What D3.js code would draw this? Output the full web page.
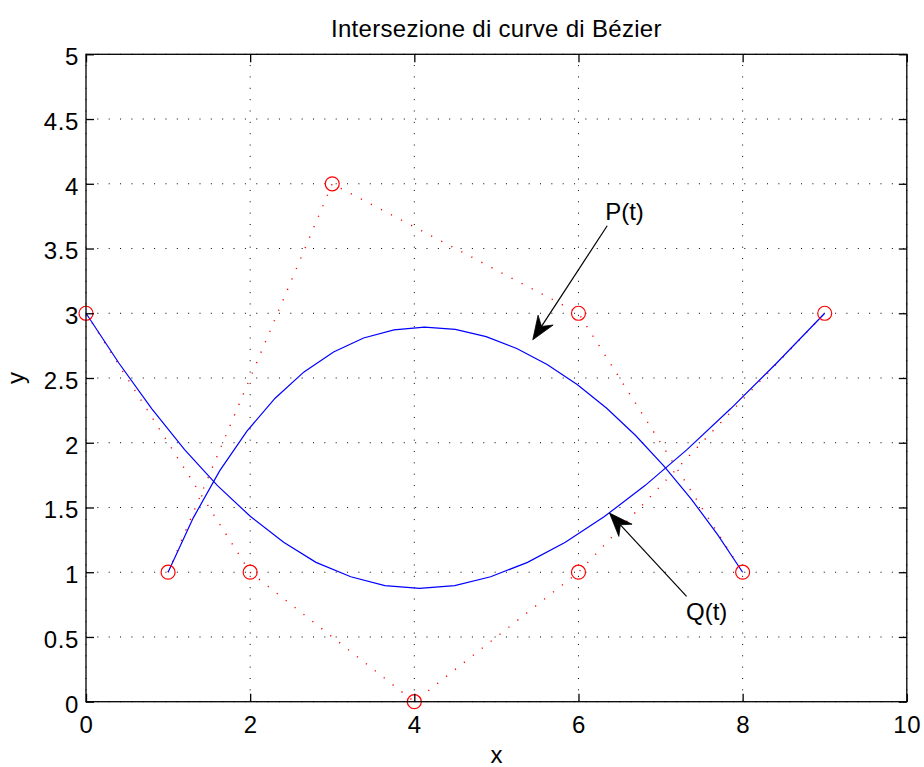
<!DOCTYPE html>
<html>
<head>
<meta charset="utf-8">
<script src="https://cdn.jsdelivr.net/npm/d3@7"></script>
<style>
  html, body { margin: 0; padding: 0; background: #fff; }
  svg { display: block; }
  text { font-family: "Liberation Sans", Arial, Helvetica, sans-serif; fill: #000; }
</style>
</head>
<body>
<svg id="chart" width="924" height="767"></svg>
<script>
// Labels
const titleText = "Intersezione di curve di Bézier";
const xLabel = "x";
const yLabel = "y";

// Axis ticks
const xTicks = [0, 2, 4, 6, 8, 10];
const xTickLabels = ["0", "2", "4", "6", "8", "10"];
const yTicks = [0, 0.5, 1, 1.5, 2, 2.5, 3, 3.5, 4, 4.5, 5];
const yTickLabels = ["0", "0.5", "1", "1.5", "2", "2.5", "3", "3.5", "4", "4.5", "5"];

// Control polygons
const pControlX = [1, 3, 6, 8];
const pControlY = [1, 4, 3, 1];
const qControlX = [0, 2, 4, 6, 9];
const qControlY = [3, 1, 0, 1, 3];

// Sampled curve vertices (21 samples each)
const pCurveX = [1.000, 1.307, 1.628, 1.961, 2.304, 2.656, 3.016, 3.382, 3.752, 4.125, 4.500,
                 4.875, 5.248, 5.618, 5.984, 6.344, 6.696, 7.039, 7.372, 7.693, 8.000];
const pCurveY = [1.000, 1.420, 1.783, 2.090, 2.344, 2.547, 2.701, 2.809, 2.872, 2.893, 2.875,
                 2.819, 2.728, 2.604, 2.449, 2.266, 2.056, 1.822, 1.567, 1.292, 1.000];
const qCurveX = [0.000, 0.400, 0.800, 1.201, 1.602, 2.004, 2.408, 2.802, 3.226, 3.641, 4.063,
                 4.492, 4.930, 5.379, 5.840, 6.316, 6.810, 7.322, 7.856, 8.415, 9.000];
const qCurveY = [3.000, 2.616, 2.264, 1.947, 1.669, 1.430, 1.232, 1.076, 0.965, 0.897, 0.875,
                 0.897, 0.965, 1.076, 1.232, 1.430, 1.669, 1.947, 2.264, 2.616, 3.000];

// Annotations (data coordinates)
const noteLabels = ["P(t)", "Q(t)"];
const noteTextAt = [[6.325, 3.717], [7.31, 0.633]];
const noteTail = [[6.35, 3.676], [7.317, 0.813]];
const noteTip = [[5.443, 2.795], [6.378, 1.457]];

const svg = d3.select("#chart");
svg.append("rect").attr("width", 924).attr("height", 767).attr("fill", "#fff");

const x = d3.scaleLinear().domain([0, 10]).range([86, 906.8]);
const y = d3.scaleLinear().domain([0, 5]).range([701.7, 54.3]);

const FS = 24;
const dotted = "1,10.35";

// Grid
const grid = svg.append("g").attr("stroke", "#000").attr("stroke-width", 1)
  .attr("stroke-dasharray", dotted).attr("fill", "none");
yTicks.forEach(v => {
  grid.append("line")
    .attr("x1", x(0)).attr("x2", x(10))
    .attr("y1", y(v)).attr("y2", y(v));
});
xTicks.forEach(v => {
  grid.append("line")
    .attr("x1", x(v)).attr("x2", x(v))
    .attr("y1", y(0)).attr("y2", y(5));
});

// Control polygons
const zip = (xs, ys) => xs.map((v, i) => [v, ys[i]]);
const line = d3.line().x(d => x(d[0])).y(d => y(d[1]));

[zip(pControlX, pControlY), zip(qControlX, qControlY)].forEach(pts => {
  svg.append("path").attr("d", line(pts))
    .attr("fill", "none").attr("stroke", "#ff0000").attr("stroke-width", 1.4)
    .attr("stroke-dasharray", "1.2,10.15");
});

// Curves
[zip(pCurveX, pCurveY), zip(qCurveX, qCurveY)].forEach(pts => {
  svg.append("path").attr("d", line(pts))
    .attr("fill", "none").attr("stroke", "#0000ff").attr("stroke-width", 1.2)
    .attr("stroke-linejoin", "miter");
});

// Markers
[zip(pControlX, pControlY), zip(qControlX, qControlY)].forEach(pts => {
  svg.append("g").selectAll("circle").data(pts).join("circle")
    .attr("cx", d => x(d[0])).attr("cy", d => y(d[1])).attr("r", 7)
    .attr("fill", "none").attr("stroke", "#ff0000").attr("stroke-width", 1.2);
});

// Axes (ticks pointing inward)
function styleAxis(g) {
  g.attr("font-size", null).attr("font-family", null);
  g.select(".domain").remove();
  g.selectAll(".tick line").attr("stroke", "#000").attr("stroke-width", 1.3);
  g.selectAll("text").attr("font-size", FS).attr("fill", "#000").attr("letter-spacing", 0.6);
}

svg.append("g").attr("transform", `translate(0,${y(0)})`)
  .call(d3.axisBottom(x).tickValues(xTicks).tickFormat((d, i) => xTickLabels[i])
    .tickSizeInner(-8).tickSizeOuter(0).tickPadding(14.5))
  .call(styleAxis);

svg.append("g").attr("transform", `translate(0,${y(5)})`)
  .call(d3.axisTop(x).tickValues(xTicks).tickFormat(() => "")
    .tickSizeInner(-8).tickSizeOuter(0))
  .call(styleAxis);

svg.append("g").attr("transform", `translate(${x(0)},0)`)
  .call(d3.axisLeft(y).tickValues(yTicks).tickFormat((d, i) => yTickLabels[i])
    .tickSizeInner(-8).tickSizeOuter(0).tickPadding(7))
  .call(styleAxis)
  .call(g => g.selectAll("text").attr("dy", "0.43em"));

svg.append("g").attr("transform", `translate(${x(10)},0)`)
  .call(d3.axisRight(y).tickValues(yTicks).tickFormat(() => "")
    .tickSizeInner(-8).tickSizeOuter(0))
  .call(styleAxis);

// Box
svg.append("rect")
  .attr("x", x(0)).attr("y", y(5))
  .attr("width", x(10) - x(0)).attr("height", y(0) - y(5))
  .attr("fill", "none").attr("stroke", "#000").attr("stroke-width", 1.3);

// Title and axis labels
svg.append("text").attr("x", (x(0) + x(10)) / 2).attr("y", 36.7)
  .attr("text-anchor", "middle").attr("font-size", FS).attr("letter-spacing", 0.3)
  .text(titleText);
svg.append("text").attr("x", (x(0) + x(10)) / 2).attr("y", 763)
  .attr("text-anchor", "middle").attr("font-size", FS).text(xLabel);
svg.append("text").attr("transform", `translate(24,${(y(0) + y(5)) / 2}) rotate(-90)`)
  .attr("text-anchor", "middle").attr("font-size", FS).text(yLabel);

// Arrows with labels
noteLabels.forEach((lab, i) => {
  const [tx, ty] = [x(noteTip[i][0]), y(noteTip[i][1])];
  const [sx, sy] = [x(noteTail[i][0]), y(noteTail[i][1])];
  const len = Math.hypot(sx - tx, sy - ty);
  const ux = (sx - tx) / len, uy = (sy - ty) / len;   // tip -> tail
  const px = -uy, py = ux;                            // perpendicular
  const headLen = 23.5, halfW = 9, notch = 16;
  const b1 = [tx + ux * headLen + px * halfW, ty + uy * headLen + py * halfW];
  const b2 = [tx + ux * headLen - px * halfW, ty + uy * headLen - py * halfW];
  const nb = [tx + ux * notch, ty + uy * notch];
  svg.append("line")
    .attr("x1", sx).attr("y1", sy).attr("x2", nb[0]).attr("y2", nb[1])
    .attr("stroke", "#000").attr("stroke-width", 1.2);
  svg.append("path")
    .attr("d", `M${tx},${ty}L${b1[0]},${b1[1]}L${nb[0]},${nb[1]}L${b2[0]},${b2[1]}Z`)
    .attr("fill", "#000").attr("stroke", "#000").attr("stroke-width", 0.8)
    .attr("stroke-linejoin", "miter");
  svg.append("text")
    .attr("x", x(noteTextAt[i][0])).attr("y", y(noteTextAt[i][1]))
    .attr("font-size", FS).text(lab);
});
</script>
</body>
</html>
